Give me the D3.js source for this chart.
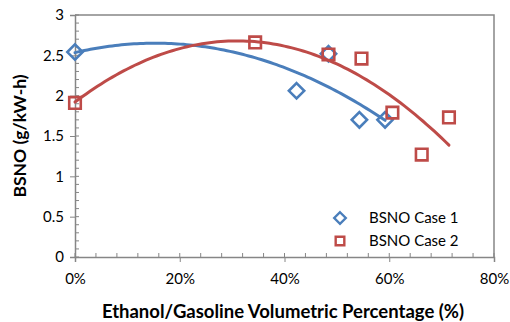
<!DOCTYPE html>
<html>
<head>
<meta charset="utf-8">
<script src="https://cdn.jsdelivr.net/npm/d3@7"></script>
<style>
  body { margin: 0; background: #fff; }
  svg text { font-family: Lato, "Open Sans", sans-serif; }
</style>
</head>
<body>
<svg id="chart" width="510" height="322"></svg>
<script>
// data
const case1X = [0, 42.3, 48.4, 54.3, 59.2];
const case1Y = [2.54, 2.06, 2.52, 1.70, 1.70];
const case2X = [0, 34.4, 48.4, 54.7, 60.6, 66.2, 71.4];
const case2Y = [1.91, 2.66, 2.51, 2.46, 1.79, 1.27, 1.73];
const seriesNames = ["BSNO Case 1", "BSNO Case 2"];
const xTicks = [0, 20, 40, 60, 80];
const yTicks = [0, 0.5, 1, 1.5, 2, 2.5, 3];

const blue = "#4a7ebb";
const red = "#be4b48";
const axisGrey = "#868686";

const plotLeft = 75, plotRight = 494, plotTop = 15, plotBottom = 257;

const svg = d3.select("#chart");

const x = d3.scaleLinear().domain([0, 80]).range([plotLeft, plotRight]);
const y = d3.scaleLinear().domain([0, 3]).range([plotBottom, plotTop]);

// plot area border (top + right)
svg.append("path")
    .attr("d", `M${plotLeft},${plotTop}H${plotRight}V${plotBottom}`)
    .attr("fill", "none")
    .attr("stroke", axisGrey)
    .attr("stroke-width", 1.5);

// minor ticks, inside the plot
const minorX = d3.range(0, 80.01, 4);
const minorY = d3.range(0, 3.001, 0.1);
svg.append("g").selectAll("line").data(minorX).join("line")
    .attr("x1", d => x(d)).attr("x2", d => x(d))
    .attr("y1", plotBottom).attr("y2", plotBottom - 4)
    .attr("stroke", axisGrey).attr("stroke-width", 1);
svg.append("g").selectAll("line").data(minorY).join("line")
    .attr("x1", plotLeft).attr("x2", plotLeft + 4)
    .attr("y1", d => y(d)).attr("y2", d => y(d))
    .attr("stroke", axisGrey).attr("stroke-width", 1);

const xAxis = svg.append("g")
    .attr("transform", `translate(0,${plotBottom})`)
    .call(d3.axisBottom(x).tickValues(xTicks).tickFormat(d => d + "%").tickSize(5).tickPadding(11));
const yAxis = svg.append("g")
    .attr("transform", `translate(${plotLeft},0)`)
    .call(d3.axisLeft(y).tickValues(yTicks).tickFormat(d => String(d)).tickSize(5).tickPadding(6));

[xAxis, yAxis].forEach(g => {
    g.select(".domain").attr("stroke", axisGrey).attr("stroke-width", 1.5);
    g.selectAll(".tick line").attr("stroke", axisGrey).attr("stroke-width", 1);
    g.selectAll(".tick text").attr("font-size", "15px").attr("fill", "#000")
        .style("font-family", "Lato, 'Open Sans', sans-serif");
});

// axis titles
svg.append("text")
    .attr("x", 283)
    .attr("y", 318)
    .attr("text-anchor", "middle")
    .attr("font-size", "18.5px")
    .attr("font-weight", "bold")
    .text("Ethanol/Gasoline Volumetric Percentage (%)");

svg.append("text")
    .attr("transform", `translate(26,136) rotate(-90)`)
    .attr("text-anchor", "middle")
    .attr("font-size", "17.5px")
    .attr("font-weight", "bold")
    .text("BSNO (g/kW-h)");

// 2nd order polynomial least squares, like the spreadsheet trendline
function polyFit(xs, ys) {
    let s = [0, 0, 0, 0, 0], t = [0, 0, 0];
    xs.forEach((xv, i) => {
        for (let k = 0; k < 5; k++) s[k] += Math.pow(xv, k);
        for (let k = 0; k < 3; k++) t[k] += ys[i] * Math.pow(xv, k);
    });
    const m = [[s[0], s[1], s[2], t[0]], [s[1], s[2], s[3], t[1]], [s[2], s[3], s[4], t[2]]];
    for (let c = 0; c < 3; c++) {
        for (let r = c + 1; r < 3; r++) {
            const f = m[r][c] / m[c][c];
            for (let k = c; k < 4; k++) m[r][k] -= f * m[c][k];
        }
    }
    const a = [0, 0, 0];
    for (let r = 2; r >= 0; r--) {
        let v = m[r][3];
        for (let k = r + 1; k < 3; k++) v -= m[r][k] * a[k];
        a[r] = v / m[r][r];
    }
    return xv => a[0] + a[1] * xv + a[2] * xv * xv;
}

const diamond = d3.symbol().type(d3.symbolDiamond2);
const square = d3.symbol().type(d3.symbolSquare2);

function drawMarkers(xs, ys, color, sym, size) {
    svg.append("g").selectAll("path").data(xs).join("path")
        .attr("transform", (d, i) => `translate(${x(d)},${y(ys[i])})`)
        .attr("d", sym.size(size)())
        .attr("fill", "none")
        .attr("stroke", color)
        .attr("stroke-width", 2.6);
}

drawMarkers(case1X, case1Y, blue, diamond, 150);
drawMarkers(case2X, case2Y, red, square, 170);

function drawTrend(xs, ys, color) {
    const f = polyFit(xs, ys);
    const lo = d3.min(xs), hi = d3.max(xs);
    const pts = d3.range(0, 101).map(i => lo + (hi - lo) * i / 100);
    svg.append("path")
        .datum(pts)
        .attr("d", d3.line().x(d => x(d)).y(d => y(f(d))))
        .attr("fill", "none")
        .attr("stroke", color)
        .attr("stroke-width", 3)
        .attr("stroke-linecap", "round");
}

drawTrend(case1X, case1Y, blue);
drawTrend(case2X, case2Y, red);

// legend
const legend = svg.append("g");
const legendItems = [
    { name: seriesNames[0], color: blue, sym: diamond, size: 85, y: 218 },
    { name: seriesNames[1], color: red, sym: square, size: 95, y: 241 }
];
legendItems.forEach(it => {
    legend.append("path")
        .attr("transform", `translate(340,${it.y})`)
        .attr("d", it.sym.size(it.size)())
        .attr("fill", "none")
        .attr("stroke", it.color)
        .attr("stroke-width", 2.4);
    legend.append("text")
        .attr("x", 369)
        .attr("y", it.y + 5)
        .attr("font-size", "15px")
        .text(it.name);
});
</script>
</body>
</html>
